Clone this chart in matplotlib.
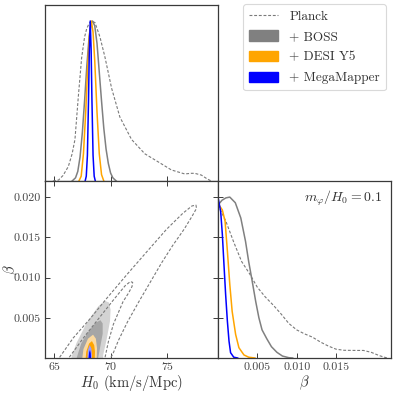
import matplotlib
matplotlib.use("Agg")
import matplotlib.pyplot as plt
from matplotlib.patches import Patch
from matplotlib.lines import Line2D

plt.rcParams['font.family'] = 'serif'
plt.rcParams['font.serif'] = ['cmr10']
plt.rcParams['mathtext.fontset'] = 'cm'
plt.rcParams['axes.formatter.use_mathtext'] = True

# ---------------- data ----------------
# 1D H0 posteriors
planck_h0_x = [64.9, 65.4, 65.8, 66.26, 66.6, 66.85, 67.15, 67.44, 67.7, 67.88, 68.1, 68.32, 68.62,
               69.06, 69.5, 70.09, 70.82, 71.85, 73.03, 74.2, 75.38, 76.56, 77.1, 77.44, 78.03, 78.5, 78.9]
planck_h0_y = [0.0, 0.006, 0.035, 0.09, 0.17, 0.26, 0.53, 0.77, 0.9, 0.95, 0.985, 1.0, 0.99,
               0.90, 0.775, 0.58, 0.40, 0.26, 0.17, 0.12, 0.069, 0.044, 0.048, 0.048, 0.037, 0.015, 0.0]

boss_h0_x = [66.6, 66.9, 67.1, 67.3, 67.5, 67.7, 67.9, 68.1, 68.3, 68.4, 68.6, 68.8, 69.0, 69.2,
             69.4, 69.6, 69.8, 70.0, 70.2, 70.5]
boss_h0_y = [0.0, 0.02, 0.06, 0.15, 0.30, 0.50, 0.72, 0.90, 0.99, 1.0, 0.97, 0.86, 0.68, 0.50,
             0.33, 0.20, 0.11, 0.05, 0.02, 0.0]

desi_h0_x = [67.2, 67.4, 67.6, 67.8, 68.0, 68.15, 68.3, 68.45, 68.6, 68.8, 69.0, 69.2, 69.4]
desi_h0_y = [0.0, 0.03, 0.17, 0.43, 0.75, 0.93, 1.0, 0.93, 0.75, 0.43, 0.17, 0.04, 0.0]

mm_h0_x = [67.75, 67.85, 67.95, 68.05, 68.12, 68.2, 68.28, 68.35, 68.45, 68.55, 68.65]
mm_h0_y = [0.0, 0.03, 0.16, 0.51, 0.82, 1.0, 0.82, 0.51, 0.16, 0.03, 0.0]

# 1D beta posteriors
planck_b_x = [0.0, 0.001, 0.002, 0.003, 0.004, 0.005, 0.006, 0.007, 0.008, 0.009, 0.010, 0.011,
              0.012, 0.013, 0.014, 0.015, 0.016, 0.0175, 0.0185, 0.0195, 0.0205, 0.0215]
planck_b_y = [0.95, 0.85, 0.72, 0.60, 0.525, 0.44, 0.38, 0.33, 0.275, 0.215, 0.175, 0.15,
              0.13, 0.10, 0.075, 0.055, 0.048, 0.047, 0.047, 0.035, 0.015, 0.0]

boss_b_x = [0.0, 0.0005, 0.001, 0.0015, 0.0022, 0.0029, 0.0035, 0.0039, 0.00435, 0.0048, 0.0052,
            0.0056, 0.0062, 0.0068, 0.0075, 0.0082, 0.009, 0.0095]
boss_b_y = [0.95, 0.98, 0.995, 1.0, 0.965, 0.87, 0.725, 0.60, 0.477, 0.35, 0.25,
            0.175, 0.12, 0.07, 0.035, 0.012, 0.002, 0.0]

desi_b_x = [0.0, 0.00055, 0.0009, 0.0012, 0.0015, 0.0018, 0.00224, 0.00266, 0.0033, 0.0039, 0.0047]
desi_b_y = [0.96, 0.92, 0.85, 0.66, 0.457, 0.29, 0.147, 0.064, 0.019, 0.005, 0.0]

mm_b_x = [0.0, 0.00034, 0.00055, 0.00076, 0.00097, 0.00119, 0.0014, 0.0016, 0.002, 0.0025]
mm_b_y = [1.0, 0.91, 0.77, 0.58, 0.395, 0.23, 0.105, 0.033, 0.005, 0.0]

# 2D contours (H0, beta) outlines
planck95_h0 = [65.2, 65.45, 66.7, 68.2, 69.65, 71.4, 73.2, 74.95, 76.4, 77.2, 77.55, 77.6,
               77.2, 76.5, 75.5, 74.5, 73.5, 72.5, 71.5, 70.7, 70.2, 70.0, 69.9]
planck95_b = [-0.001, 0.0, 0.0025, 0.0049, 0.0074, 0.0103, 0.0132, 0.0160, 0.0180, 0.0189, 0.0190, 0.0186,
              0.0176, 0.0160, 0.0140, 0.0118, 0.0094, 0.0070, 0.0045, 0.0022, 0.0005, 0.0, -0.001]

planck68_h0 = [66.1, 66.3, 67.6, 69.0, 70.3, 71.3, 71.75, 71.95, 71.9, 71.6, 71.1, 70.25, 69.8,
               69.5, 69.45]
planck68_b = [-0.001, 0.0, 0.0025, 0.0050, 0.0073, 0.0090, 0.0095, 0.0094, 0.0089, 0.0081, 0.0070,
              0.0042, 0.0020, 0.0, -0.001]

boss95_h0 = [66.4, 66.56, 67.0, 67.9, 68.9, 69.5, 69.85, 70.0, 69.95, 69.65, 69.35, 69.3]
boss95_b = [-0.001, 0.0002, 0.0019, 0.0044, 0.0064, 0.0071, 0.0069, 0.0060, 0.0046, 0.0023, 0.0004, -0.001]

boss68_h0 = [66.95, 67.0, 67.4, 68.0, 68.7, 69.1, 69.3, 69.3, 69.1, 68.9, 68.85]
boss68_b = [-0.001, 0.0, 0.0018, 0.0032, 0.0044, 0.0047, 0.0043, 0.0030, 0.0015, 0.0, -0.001]

desi95_h0 = [67.4, 67.5, 67.6, 68.0, 68.45, 68.7, 68.8, 68.78, 68.75]
desi95_b = [-0.001, 0.0, 0.0011, 0.0024, 0.0029, 0.0024, 0.0012, 0.0, -0.001]

desi68_h0 = [67.75, 67.8, 67.85, 68.1, 68.35, 68.55, 68.62, 68.6, 68.58]
desi68_b = [-0.001, 0.0, 0.0008, 0.0018, 0.0021, 0.0016, 0.0008, 0.0, -0.001]

mm95_h0 = [67.93, 67.95, 68.0, 68.15, 68.3, 68.35, 68.35, 68.34]
mm95_b = [-0.001, 0.0, 0.0010, 0.0016, 0.0012, 0.0004, 0.0, -0.001]

mm68_h0 = [68.03, 68.05, 68.1, 68.18, 68.25, 68.27, 68.27]
mm68_b = [-0.001, 0.0, 0.0007, 0.0010, 0.0006, 0.0, -0.001]

h0_ticks = [65, 70, 75]
beta_ticks = [0.005, 0.010, 0.015, 0.020]
beta_ticks_right = [0.005, 0.010, 0.015]
beta_tick_labels_right = ['0.005', '0.010', '0.015']
beta_tick_labels = ['0.005', '0.010', '0.015', '0.020']

labels = ['Planck', '+ BOSS', '+ DESI Y5', '+ MegaMapper']

# ---------------- style ----------------
c_gray = '#808080'
c_orange = '#FFA500'
c_blue = '#0000FF'
c_planck = '#7a7a7a'
dash = (0, (2.6, 1.6))
spine_c = '#3a3a3a'
tick_c = '#444444'

fig = plt.figure(figsize=(3.95, 3.95), dpi=100)
W = 395.0
ax_top = fig.add_axes([45 / W, (395 - 181) / W, 173 / W, 176 / W])
ax_2d = fig.add_axes([45 / W, (395 - 358) / W, 173 / W, 177 / W])
ax_r = fig.add_axes([218 / W, (395 - 358) / W, 173 / W, 177 / W])

for ax in (ax_top, ax_2d, ax_r):
    for s in ax.spines.values():
        s.set_color(spine_c)
        s.set_linewidth(0.9)
    ax.tick_params(direction='in', length=3.5, width=0.7, color=spine_c,
                   labelsize=8.6, labelcolor=tick_c, pad=3)

xlim_h0 = (64.2, 79.5)
blim = (0.0, 0.022)

# top panel
ax_top.plot(planck_h0_x, planck_h0_y, color=c_planck, lw=0.8, ls=dash)
ax_top.plot(boss_h0_x, boss_h0_y, color=c_gray, lw=1.1)
ax_top.plot(desi_h0_x, desi_h0_y, color=c_orange, lw=1.1)
ax_top.plot(mm_h0_x, mm_h0_y, color=c_blue, lw=1.1)
ax_top.set_xlim(*xlim_h0)
ax_top.set_ylim(0, 1.1)
ax_top.set_xticks(h0_ticks)
ax_top.set_xticklabels([])
ax_top.set_yticks([])

# 2D panel
ax_2d.fill(boss95_h0, boss95_b, color='#d3d3d3', lw=0)
ax_2d.fill(boss68_h0, boss68_b, color='#a6a6a6', lw=0)
ax_2d.fill(desi95_h0, desi95_b, color='#fbd9a0', lw=0)
ax_2d.fill(desi68_h0, desi68_b, color=c_orange, lw=0)
ax_2d.fill(mm95_h0, mm95_b, color='#9c9cff', lw=0)
ax_2d.fill(mm68_h0, mm68_b, color=c_blue, lw=0)
ax_2d.plot(planck95_h0, planck95_b, color=c_planck, lw=0.8, ls=dash)
ax_2d.plot(planck68_h0, planck68_b, color=c_planck, lw=0.8, ls=dash)
ax_2d.set_xlim(*xlim_h0)
ax_2d.set_ylim(*blim)
ax_2d.set_xticks(h0_ticks)
ax_2d.set_xticklabels([str(t) for t in h0_ticks])
ax_2d.set_yticks(beta_ticks)
ax_2d.set_yticklabels(beta_tick_labels)
ax_2d.tick_params(top=True, right=True)
ax_2d.set_xlabel(r'$H_0$ (km/s/Mpc)', fontsize=10.5, color='#333333')
ax_2d.set_ylabel(r'$\beta$', fontsize=10.5, color='#333333')
ax_2d.xaxis.set_label_coords(0.5, -0.14)
ax_2d.xaxis.label.set_va('center')
ax_2d.yaxis.set_label_coords(-0.195, 0.5)
ax_2d.yaxis.label.set_va('center')

# right panel
ax_r.plot(planck_b_x, planck_b_y, color=c_planck, lw=0.8, ls=dash)
ax_r.plot(boss_b_x, boss_b_y, color=c_gray, lw=1.1)
ax_r.plot(desi_b_x, desi_b_y, color=c_orange, lw=1.1)
ax_r.plot(mm_b_x, mm_b_y, color=c_blue, lw=1.1)
ax_r.set_xlim(*blim)
ax_r.set_ylim(0, 1.1)
ax_r.set_xticks(beta_ticks_right)
ax_r.set_xticklabels(beta_tick_labels_right)
ax_r.set_yticks([0.25, 0.5, 0.75, 1.0])
ax_r.set_yticklabels([])
ax_r.set_xlabel(r'$\beta$', fontsize=10.5, color='#333333')
ax_r.xaxis.set_label_coords(0.5, -0.14)
ax_r.xaxis.label.set_va('center')
ax_r.text(0.95, 0.90, r'$m_\varphi/H_0=0.1$', transform=ax_r.transAxes,
          ha='right', va='center', fontsize=10, color='#333333')

# legend
handles = [Line2D([], [], color=c_planck, lw=0.8, ls=dash),
           Patch(facecolor=c_gray, edgecolor=c_gray),
           Patch(facecolor=c_orange, edgecolor=c_orange),
           Patch(facecolor=c_blue, edgecolor=c_blue)]
leg = fig.legend(handles, labels, loc='upper right',
                 bbox_to_anchor=(386 / W, 1 - 4 / W), borderaxespad=0.0, fontsize=9.5,
                 frameon=True, fancybox=True, handlelength=2.2, handleheight=0.8,
                 labelspacing=0.6, borderpad=0.45, handletextpad=0.85)
leg.get_frame().set_edgecolor('#d0d0d0')
leg.get_frame().set_linewidth(0.8)
for t in leg.get_texts():
    t.set_color('#333333')

fig.savefig('out.png', dpi=100)
